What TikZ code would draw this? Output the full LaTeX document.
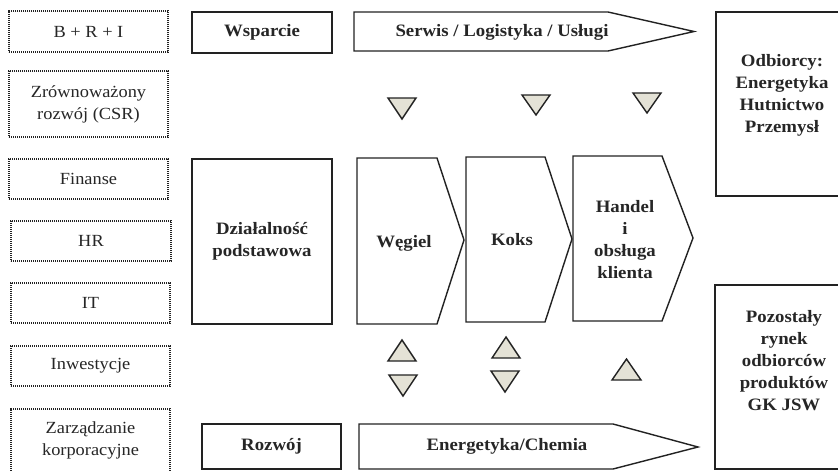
\documentclass[tikz,border=0pt]{standalone}
\usepackage{fontspec}
\setmainfont{Liberation Serif}[FakeStretch=1.08]
\definecolor{ln}{HTML}{222222}
\definecolor{trifill}{HTML}{E4E2D6}
\definecolor{txt}{HTML}{262626}
\begin{document}
\begin{tikzpicture}[x=1pt,y=-1pt,
  solidline/.style={draw=ln, line width=1.4pt, line join=miter},
  dotbox/.style={draw=ln, line width=1.5pt, dash pattern=on 1.1pt off 0.9pt, align=center, text=txt,
    font=\fontsize{17}{22}\selectfont, inner sep=0pt},
  solidbox/.style={solidline, align=center, text=txt, font=\fontsize{17.4}{22}\selectfont\bfseries, inner sep=0pt},
  tri/.style={draw=ln, fill=trifill, line width=1.4pt, line join=miter},
  blbl/.style={text=txt, align=center, font=\fontsize{17.4}{22}\selectfont\bfseries, inner sep=0pt}]
\useasboundingbox (0,0) rectangle (838,471);
\clip (0,0) rectangle (838,471);
\fill[white] (0,0) rectangle (838,471);

% left dotted boxes
\node[dotbox, minimum width=159pt, minimum height=41pt] (bri) at (88.5,31.5) {B + R + I};
\node[dotbox, minimum width=159pt, minimum height=66pt] (csr) at (88.5,104) {Zrównoważony\\rozwój (CSR)};
\node[dotbox, minimum width=159pt, minimum height=40pt] (fin) at (88.5,179) {Finanse};
\node[dotbox, minimum width=160pt, minimum height=40pt] (hr) at (91,241) {HR};
\node[dotbox, minimum width=159pt, minimum height=40pt] (it) at (90.5,303) {IT};
\node[dotbox, minimum width=159pt, minimum height=40pt] (inw) at (90.5,366) {Inwestycje};
\node[dotbox, minimum width=159pt, minimum height=63pt] (zarz) at (90.5,440.5) {Zarządzanie\\korporacyjne};

% solid boxes
\node[solidbox, minimum width=140pt, minimum height=41pt] (wsp) at (262,32.5) {Wsparcie};
\node[solidbox, minimum width=140pt, minimum height=165pt] (dzial) at (262,241.5) {Działalność\\podstawowa};
\node[solidbox, minimum width=139pt, minimum height=45pt] (rozw) at (271.5,446.5) {Rozwój};

% right boxes (cut by the edge)
\draw[solidline] (716,12) rectangle (846,196);
\node[blbl] (odb) at (782,95) {Odbiorcy:\\Energetyka\\Hutnictwo\\Przemysł};
\draw[solidline] (715,285) rectangle (846,469);
\node[blbl] (poz) at (784,361) {Pozostały\\rynek\\odbiorców\\produktów\\GK JSW};

% arrows
\draw[solidline] (354,12) -- (608,12) -- (694,31.5) -- (608,51) -- (354,51) -- cycle;
\node[blbl] (serw) at (502,32) {Serwis / Logistyka / Usługi};
\draw[solidline] (359,424) -- (613,424) -- (698,447) -- (613,469) -- (359,469) -- cycle;
\node[blbl] (ener) at (507,446) {Energetyka/Chemia};

% chevrons
\draw[solidline] (357,158) -- (437,158) -- (464,240) -- (437,324) -- (357,324) -- cycle;
\node[blbl] (weg) at (404,243) {Węgiel};
\draw[solidline] (466,157) -- (545,157) -- (572,239) -- (545,322) -- (466,322) -- cycle;
\node[blbl] (koks) at (512,240) {Koks};
\draw[solidline] (573,156) -- (662,156) -- (693,238) -- (662,321) -- (573,321) -- cycle;
\node[blbl] (hand) at (625,240) {Handel\\i\\obsługa\\klienta};

% triangles top row (down)
\draw[tri] (388,98) -- (416,98) -- (402,119) -- cycle;
\draw[tri] (522,95) -- (550,95) -- (536,115) -- cycle;
\draw[tri] (633,93) -- (661,93) -- (647,113) -- cycle;
% bottom triangles
\draw[tri] (388,361) -- (416,361) -- (402,340) -- cycle;
\draw[tri] (389,375) -- (417,375) -- (403,396) -- cycle;
\draw[tri] (492,358) -- (520,358) -- (506,337) -- cycle;
\draw[tri] (491,371) -- (519,371) -- (505,392) -- cycle;
\draw[tri] (612,380) -- (641,380) -- (626.5,359) -- cycle;
\end{tikzpicture}
\end{document}
